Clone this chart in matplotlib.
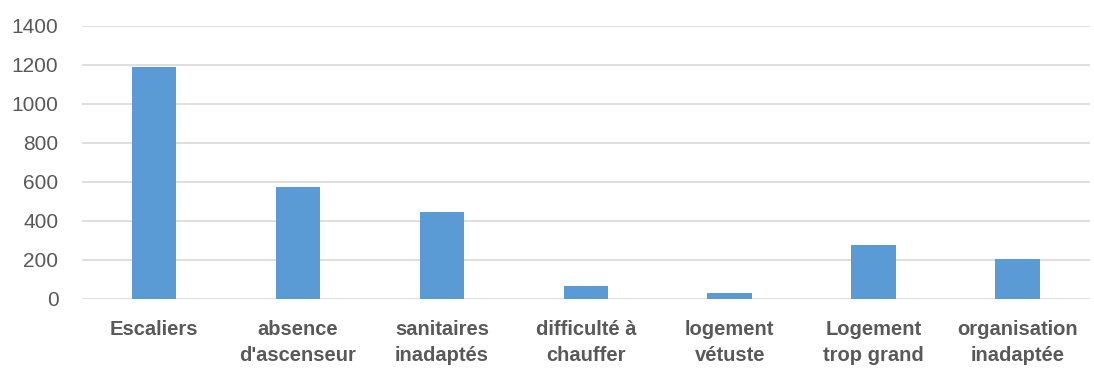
import matplotlib
matplotlib.use("Agg")
import matplotlib.pyplot as plt

# data
categories = ["Escaliers", "absence\nd'ascenseur", "sanitaires\ninadaptés",
              "difficulté à\nchauffer", "logement\nvétuste", "Logement\ntrop grand",
              "organisation\ninadaptée"]
values = [1190, 574, 446, 65, 31, 277, 205]
yticks = [0, 200, 400, 600, 800, 1000, 1200, 1400]

plt.rcParams['font.family'] = ['Liberation Sans', 'DejaVu Sans']

fig = plt.figure(figsize=(10.94, 3.70), dpi=100)
ax = fig.add_axes([0.075, 0.192, 0.921, 0.738])

x = range(len(categories))
ax.bar(x, values, width=0.31, color="#5b9bd5", zorder=3)

ax.set_ylim(0, 1400)
ax.set_yticks(yticks)
ax.set_xlim(-0.5, len(categories) - 0.5)
ax.set_xticks(list(x))
ax.set_xticklabels(categories, fontweight="bold", fontsize=14.5, color="#595959",
                   linespacing=1.5)
ax.tick_params(axis="y", labelsize=15, labelcolor="#595959", length=0, pad=17)
ax.tick_params(axis="x", length=0, pad=15)
ax.grid(axis="y", color="#d9d9d9", linewidth=1.2, zorder=0)
for s in ax.spines.values():
    s.set_visible(False)

fig.savefig("out.png", dpi=100)
